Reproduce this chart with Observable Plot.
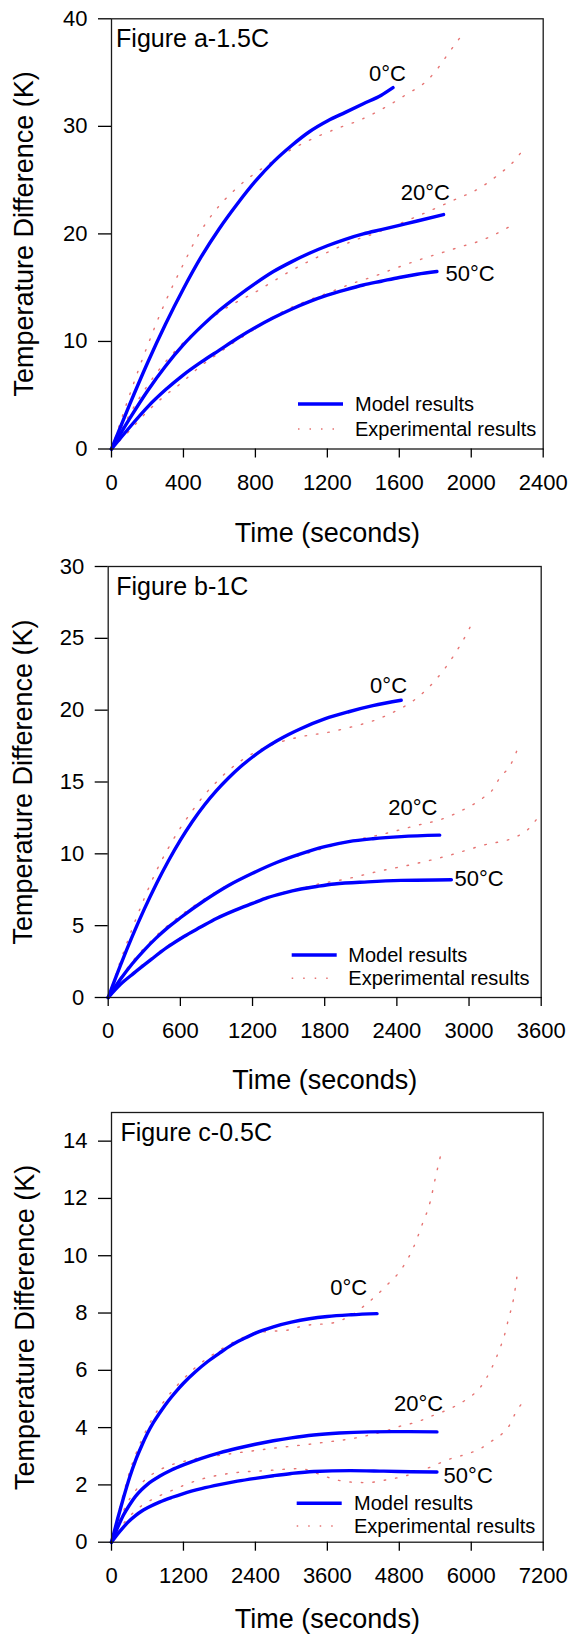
<!DOCTYPE html>
<html><head><meta charset="utf-8">
<script src="https://cdn.jsdelivr.net/npm/d3@7"></script>
<script src="https://cdn.jsdelivr.net/npm/@observablehq/plot@0.6"></script>
<style>
body{margin:0;background:#fff;}
#chart{width:569px;height:1638px;position:relative;background:#fff;}
#chart svg{display:block;}
</style></head><body><div id="chart"></div>
<script>
// ---------- Panel a (1.5C) ----------
const aTitle = "Figure a-1.5C";
const aXTicks = [0, 400, 800, 1200, 1600, 2000, 2400];
const aYTicks = [0, 10, 20, 30, 40];
const aModel0 = [[0,0],[100,4.1],[200,8.0],[300,11.6],[400,14.9],[500,17.9],[600,20.5],[700,22.8],[800,24.9],[900,26.7],[1000,28.2],[1100,29.5],[1200,30.5],[1300,31.3],[1400,32.1],[1500,32.9],[1565,33.6]];
const aExp0 = [[0,0],[100,5.0],[200,9.6],[300,13.7],[400,17.2],[476,19.7],[569,22.0],[698,24.3],[874,26.5],[995,27.8],[1124,28.9],[1254,29.8],[1383,30.6],[1504,31.6],[1633,32.9],[1763,34.4],[1819,35.5],[1865,36.6],[1958,38.7]];
const aModel20 = [[0,0],[100,2.8],[200,5.4],[300,7.7],[400,9.7],[500,11.4],[600,12.9],[700,14.2],[800,15.4],[900,16.5],[1000,17.4],[1100,18.2],[1200,18.9],[1300,19.5],[1400,20.0],[1500,20.4],[1600,20.8],[1700,21.2],[1846,21.8]];
const aExp20 = [[0,0],[100,3.2],[200,5.9],[300,8.1],[400,9.9],[500,11.4],[600,12.7],[700,13.7],[791,14.5],[900,15.6],[1022,16.8],[1140,17.8],[1254,18.7],[1350,19.4],[1439,19.9],[1550,20.6],[1680,21.5],[1791,22.3],[1911,23.2],[2041,24.2],[2143,25.4],[2245,26.9],[2291,27.9]];
const aModel50 = [[0,0],[100,2.0],[200,3.9],[300,5.5],[400,6.9],[500,8.1],[600,9.2],[700,10.3],[800,11.3],[900,12.2],[1000,13.0],[1100,13.7],[1200,14.3],[1300,14.8],[1400,15.25],[1500,15.6],[1600,15.95],[1700,16.25],[1809,16.5]];
const aExp50 = [[0,0],[100,1.7],[200,3.5],[300,5.0],[393,6.2],[480,7.5],[578,8.7],[680,9.9],[782,11.0],[870,12.0],[967,12.9],[1090,13.8],[1217,14.6],[1340,15.4],[1467,16.1],[1561,16.7],[1661,17.3],[1750,17.8],[1846,18.3],[1940,18.8],[2041,19.3],[2100,19.7],[2161,20.2],[2226,20.8]];
const aLabels = [{t:1534,v:34.9,text:"0°C"},{t:1745,v:23.8,text:"20°C"},{t:1857,v:16.3,text:"50°C"}];

// ---------- Panel b (1C) ----------
const bTitle = "Figure b-1C";
const bXTicks = [0, 600, 1200, 1800, 2400, 3000, 3600];
const bYTicks = [0, 5, 10, 15, 20, 25, 30];
const bModel0 = [[0,0],[100,2.2],[200,4.25],[300,6.15],[400,7.9],[500,9.5],[600,10.95],[700,12.25],[800,13.4],[900,14.4],[1000,15.28],[1100,16.06],[1200,16.74],[1300,17.34],[1400,17.86],[1500,18.31],[1600,18.71],[1800,19.39],[2000,19.89],[2200,20.31],[2436,20.69]];
const bExp0 = [[0,0],[100,2.5],[200,4.8],[300,6.9],[400,8.8],[500,10.4],[600,11.8],[700,13.0],[800,14.1],[900,15.0],[1000,15.8],[1100,16.45],[1228,17.1],[1330,17.5],[1436,17.8],[1631,18.2],[1825,18.45],[2006,18.8],[2200,19.25],[2381,19.9],[2575,20.9],[2742,22.3],[2881,23.9],[2992,25.5],[3033,26.2]];
const bModel20 = [[0,0],[100,1.25],[200,2.35],[300,3.3],[400,4.15],[500,4.9],[600,5.55],[800,6.75],[1000,7.8],[1200,8.65],[1400,9.4],[1600,10.0],[1800,10.5],[2000,10.85],[2200,11.05],[2436,11.2],[2756,11.3]];
const bExp20 = [[0,0],[100,1.35],[200,2.5],[300,3.45],[400,4.3],[500,5.05],[600,5.7],[800,6.85],[1000,7.85],[1200,8.65],[1400,9.35],[1600,9.9],[1800,10.4],[2000,10.85],[2297,11.4],[2575,12.0],[2770,12.4],[2936,13.0],[3117,13.9],[3200,14.5],[3256,15.3],[3339,16.1],[3422,17.7]];
const bModel50 = [[0,0],[100,0.9],[214,1.7],[350,2.6],[492,3.5],[630,4.25],[769,4.9],[900,5.5],[1047,6.05],[1200,6.55],[1325,6.95],[1450,7.25],[1603,7.55],[1750,7.75],[1881,7.9],[2158,8.05],[2436,8.15],[2853,8.2]];
const bExp50 = [[0,0],[100,0.95],[214,1.8],[350,2.7],[492,3.6],[630,4.3],[769,4.95],[900,5.5],[1047,6.05],[1200,6.55],[1325,6.95],[1450,7.3],[1603,7.6],[1750,7.9],[1978,8.25],[2256,8.8],[2547,9.3],[2839,9.9],[3117,10.6],[3395,11.2],[3478,11.6],[3561,12.4]];
const bLabels = [{t:2331,v:21.7,text:"0°C"},{t:2533,v:13.2,text:"20°C"},{t:2880,v:8.26,text:"50°C"}];

// ---------- Panel c (0.5C) ----------
const cTitle = "Figure c-0.5C";
const cXTicks = [0, 1200, 2400, 3600, 4800, 6000, 7200];
const cYTicks = [0, 2, 4, 6, 8, 10, 12, 14];
const cModel0 = [[0,0],[100,0.8],[200,1.55],[300,2.25],[400,2.85],[500,3.35],[600,3.8],[700,4.18],[800,4.5],[900,4.8],[1000,5.07],[1100,5.32],[1200,5.55],[1400,5.95],[1600,6.3],[1800,6.6],[2000,6.88],[2200,7.1],[2400,7.3],[2700,7.52],[3000,7.68],[3300,7.8],[3600,7.88],[4000,7.94],[4428,7.98]];
const cExp0 = [[0,0],[100,0.9],[200,1.7],[300,2.45],[400,3.05],[500,3.55],[600,4.0],[700,4.38],[800,4.7],[900,4.98],[1000,5.25],[1200,5.7],[1400,6.1],[1600,6.42],[1800,6.7],[2000,6.95],[2200,7.15],[2372,7.3],[2650,7.36],[2928,7.4],[3100,7.5],[3289,7.58],[3650,7.64],[3956,7.87],[4261,8.33],[4567,8.92],[4845,9.56],[5039,10.3],[5178,11.07],[5317,11.9],[5400,12.7],[5484,13.46]];
const cModel20 = [[0,0],[100,0.5],[200,0.95],[300,1.3],[400,1.6],[500,1.83],[600,2.02],[800,2.3],[1000,2.52],[1200,2.7],[1500,2.93],[1800,3.12],[2100,3.28],[2400,3.42],[2700,3.54],[3000,3.64],[3372,3.74],[3800,3.81],[4300,3.85],[4817,3.86],[5428,3.85]];
const cExp20 = [[0,0],[100,0.6],[200,1.1],[300,1.5],[400,1.8],[500,2.05],[600,2.25],[800,2.52],[1000,2.7],[1200,2.82],[1500,2.95],[1800,3.03],[2100,3.12],[2400,3.2],[2700,3.28],[3000,3.35],[3300,3.42],[3600,3.5],[3900,3.58],[4261,3.72],[4595,3.9],[4817,4.05],[5095,4.2],[5372,4.43],[5706,4.72],[5928,5.0],[6150,5.4],[6345,6.1],[6484,6.8],[6550,7.2],[6622,7.8],[6706,8.5],[6761,9.25]];
const cModel50 = [[0,0],[100,0.28],[200,0.53],[300,0.75],[400,0.93],[500,1.08],[600,1.2],[800,1.4],[1000,1.56],[1200,1.7],[1500,1.87],[1800,2.01],[2100,2.13],[2400,2.23],[2700,2.32],[3000,2.4],[3372,2.47],[3984,2.5],[4539,2.48],[5000,2.46],[5428,2.45]];
const cExp50 = [[0,0],[100,0.35],[200,0.65],[300,0.9],[400,1.1],[500,1.27],[600,1.4],[800,1.62],[1000,1.8],[1200,1.98],[1500,2.2],[2039,2.42],[2595,2.5],[3150,2.57],[3428,2.4],[3706,2.2],[3984,2.1],[4261,2.08],[4539,2.16],[4928,2.33],[5317,2.62],[5650,2.91],[5928,3.08],[6150,3.26],[6317,3.5],[6484,3.73],[6622,4.03],[6761,4.6],[6828,4.8]];
const cLabels = [{t:3956,v:8.86,text:"0°C"},{t:5122,v:4.84,text:"20°C"},{t:5539,v:2.33,text:"50°C"}];

const seriesNames = ["0°C", "20°C", "50°C"];
const legendNames = ["Model results", "Experimental results"];
const xTitle = "Time (seconds)";
const yTitle = "Temperature Difference (K)";

// ---------- drawing ----------
const FONT = "'Liberation Sans', Arial, Helvetica, sans-serif";
const W = 569, H = 546;
const BLUE = "#0000ff", RED = "#e0504f";

function rows(list) {
  const out = [];
  list.forEach((pts, i) => pts.forEach(([t, v]) => out.push({series: seriesNames[i], t, v})));
  return out;
}

function panel(cfg) {
  const {title, xTicks, yTicks, yDomain, models, exps, labels, m, lay} = cfg;
  const modelRows = rows(models), expRows = rows(exps);
  const plot = Plot.plot({
    width: W, height: H,
    marginTop: m.top, marginBottom: m.bottom, marginLeft: m.left, marginRight: m.right,
    style: {fontFamily: FONT, fontSize: "22px", color: "#000", background: "#fff", overflow: "visible"},
    x: {domain: [xTicks[0], xTicks[xTicks.length - 1]], label: null},
    y: {domain: yDomain, label: null},
    marks: [
      Plot.line(expRows, {x: "t", y: "v", z: "series", stroke: RED, strokeWidth: 1.4, strokeOpacity: 0.8, strokeDasharray: "1.5,10", curve: "monotone-x"}),
      Plot.line(modelRows, {x: "t", y: "v", z: "series", stroke: BLUE, strokeWidth: 3.4, curve: "monotone-x"}),
      Plot.frame({stroke: "#1a1a1a", strokeWidth: 1.3}),
      Plot.axisX({ticks: xTicks, tickSize: 9, tickPadding: 16, tickFormat: d => String(d), fontSize: 22, strokeWidth: 1.3, label: null}),
      Plot.axisY({ticks: yTicks, tickSize: 13, tickPadding: 11, tickFormat: d => String(d), fontSize: 22, strokeWidth: 1.3, label: null}),
      Plot.text(labels, {filter: d => d.text !== seriesNames[2], x: "t", y: "v", text: "text", fontSize: 22, fill: "#000"}),
      Plot.text(labels, {filter: d => d.text === seriesNames[2], x: "t", y: "v", text: "text", textAnchor: "start", fontSize: 22, fill: "#000"}),
      Plot.text([title], {text: d => d, frameAnchor: "top-left", dx: lay.titleDx, dy: lay.titleDy, lineAnchor: "bottom", textAnchor: "start", fontSize: 25, fill: "#000"}),
      Plot.text([xTitle], {text: d => d, frameAnchor: "bottom", dy: lay.xTitleDy, lineAnchor: "bottom", textAnchor: "middle", fontSize: 27, fill: "#000"}),
      Plot.text([yTitle], {text: d => d, frameAnchor: "left", rotate: -90, dx: lay.yTitleDx, textAnchor: "middle", lineAnchor: "middle", fontSize: 27, fill: "#000"})
    ]
  });
  // legend (inside the frame, bottom-right)
  const R = W - m.right, B = H - m.bottom;
  const g = d3.select(plot).append("g").attr("font-family", FONT).attr("font-size", 20).attr("text-anchor", "start");
  g.append("line").attr("x1", R - lay.lgLine[0]).attr("x2", R - lay.lgLine[1])
    .attr("y1", B - lay.lgRows[0]).attr("y2", B - lay.lgRows[0])
    .attr("stroke", BLUE).attr("stroke-width", 3.4);
  g.append("line").attr("x1", R - lay.lgLine[0]).attr("x2", R - lay.lgLine[1])
    .attr("y1", B - lay.lgRows[1]).attr("y2", B - lay.lgRows[1])
    .attr("stroke", RED).attr("stroke-width", 1.4).attr("stroke-opacity", 0.8).attr("stroke-dasharray", "1.5,10");
  legendNames.forEach((name, i) => {
    g.append("text").attr("x", R - lay.lgText).attr("y", B - lay.lgRows[i]).attr("dy", "0.35em")
      .attr("text-anchor", "start").attr("fill", "#000").text(name);
  });
  return plot;
}

const chart = document.getElementById("chart");
chart.appendChild(panel({
  title: aTitle, xTicks: aXTicks, yTicks: aYTicks, yDomain: [0, 40],
  models: [aModel0, aModel20, aModel50], exps: [aExp0, aExp20, aExp50], labels: aLabels,
  m: {top: 18.3, bottom: 97.5, left: 111, right: 26.3},
  lay: {titleDx: 4.6, titleDy: 27.8, xTitleDy: 92.5, yTitleDx: -87, lgLine: [244.7, 199.7], lgText: 187.7, lgRows: [44.5, 19.5]}
}));
chart.appendChild(panel({
  title: bTitle, xTicks: bXTicks, yTicks: bYTicks, yDomain: [0, 30],
  models: [bModel0, bModel20, bModel50], exps: [bExp0, bExp20, bExp50], labels: bLabels,
  m: {top: 20, bottom: 95, left: 107.7, right: 28.3},
  lay: {titleDx: 8, titleDy: 28, xTitleDy: 91, yTitleDx: -85, lgLine: [249, 204], lgText: 192.4, lgRows: [42, 18.7]}
}));
chart.appendChild(panel({
  title: cTitle, xTicks: cXTicks, yTicks: cYTicks, yDomain: [0, 15],
  models: [cModel0, cModel20, cModel50], exps: [cExp0, cExp20, cExp50], labels: cLabels,
  m: {top: 20, bottom: 96.3, left: 111, right: 26.3},
  lay: {titleDx: 9, titleDy: 28.7, xTitleDy: 85.3, yTitleDx: -86, lgLine: [246, 201], lgText: 188.7, lgRows: [38.4, 15.7]}
}));
</script></body></html>
